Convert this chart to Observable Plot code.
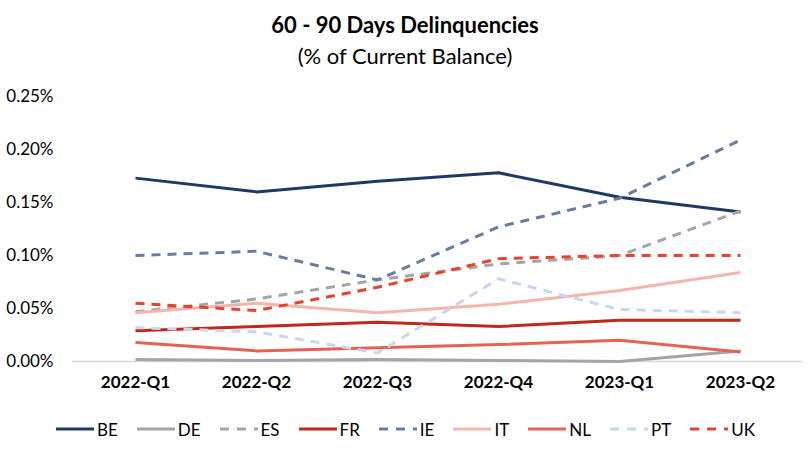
<!DOCTYPE html>
<html>
<head>
<meta charset="utf-8">
<script src="https://cdn.jsdelivr.net/npm/d3@7"></script>
<script src="https://cdn.jsdelivr.net/npm/@observablehq/plot@0.6"></script>
<style>
  html, body { margin: 0; padding: 0; background: #fff; }
  body { width: 810px; height: 455px; font-family: Lato, "Open Sans", sans-serif; color: #000; overflow: hidden; }
  #title { height: 80px; text-align: center; }
  #title .t { font-weight: bold; font-size: 22px; padding-top: 11px; line-height: 28px; }
  #title .s { font-size: 22px; line-height: 28px; padding-top: 3px; }
  #legend { display: flex; justify-content: center; align-items: center; height: 30px; margin-top: 14px; font-size: 17px; }
  #legend .item { display: flex; align-items: center; margin: 0 9px; }
  #legend svg { margin-right: 2px; }
</style>
</head>
<body>
<div id="title"><div class="t">60 - 90 Days Delinquencies</div><div class="s">(% of Current Balance)</div></div>
<div id="chart"></div>
<div id="legend"></div>
<script>
const quarters = ["2022-Q1", "2022-Q2", "2022-Q3", "2022-Q4", "2023-Q1", "2023-Q2"];
const yTicks = [0, 0.05, 0.10, 0.15, 0.20, 0.25];
const seriesNames = ["BE", "DE", "ES", "FR", "IE", "IT", "NL", "PT", "UK"];
const BE = [0.173, 0.160, 0.170, 0.178, 0.155, 0.141];
const DE = [0.002, 0.001, 0.002, 0.001, 0.000, 0.010];
const ES = [0.047, 0.059, 0.077, 0.092, 0.100, 0.142];
const FR = [0.029, 0.033, 0.037, 0.033, 0.039, 0.039];
const IE = [0.100, 0.104, 0.077, 0.127, 0.154, 0.209];
const IT = [0.046, 0.055, 0.046, 0.054, 0.067, 0.084];
const NL = [0.018, 0.010, 0.013, 0.016, 0.020, 0.009];
const PT = [0.032, 0.028, 0.008, 0.078, 0.049, 0.046];
const UK = [0.055, 0.048, 0.070, 0.097, 0.100, 0.100];
const seriesValues = [BE, DE, ES, FR, IE, IT, NL, PT, UK];
const seriesColors = ["#203864", "#A5A5A5", "#A5A5A5", "#C0281C", "#6A7B9C", "#F4B6AC", "#E46452", "#C9D7EE", "#E8412F"];
const seriesDashed = [false, false, true, false, true, false, false, true, true];

const rows = seriesNames.flatMap((s, i) => quarters.map((q, j) => ({series: s, quarter: q, value: seriesValues[i][j]})));

const lineMarks = seriesNames.map((s, i) => Plot.line(rows.filter(d => d.series === s), {
  x: "quarter", y: "value",
  stroke: seriesColors[i], strokeWidth: 3,
  strokeDasharray: seriesDashed[i] ? "9,7" : null,
  strokeLinejoin: "round", strokeLinecap: "butt"
}));

const chart = Plot.plot({
  width: 810, height: 320,
  marginLeft: 72, marginRight: 7, marginTop: 16, marginBottom: 39,
  style: {fontFamily: "Lato, 'Open Sans', sans-serif", fontSize: "17px", color: "#000", background: "#fff"},
  x: {type: "point", domain: quarters, padding: 0.5, label: null, tickSize: 0, tickPadding: 14},
  y: {domain: [0, 0.25], ticks: yTicks, tickFormat: d => d.toFixed(2) + "%", label: null, tickSize: 0, tickPadding: 19},
  marks: [
    Plot.ruleY([0], {stroke: "#D9D9D9", strokeWidth: 1.5}),
    ...lineMarks
  ]
});
d3.select(chart).selectAll("[aria-label='x-axis tick label']").attr("font-weight", "bold");
document.getElementById("chart").appendChild(chart);

const legend = d3.select("#legend");
seriesNames.forEach((s, i) => {
  const item = legend.append("div").attr("class", "item");
  const svg = item.append("svg").attr("width", 40).attr("height", 10);
  svg.append("line").attr("x1", 1).attr("x2", 39).attr("y1", 5).attr("y2", 5)
    .attr("stroke", seriesColors[i]).attr("stroke-width", 3)
    .attr("stroke-dasharray", seriesDashed[i] ? "9,8" : null);
  item.append("span").text(s);
});
</script>
</body>
</html>
